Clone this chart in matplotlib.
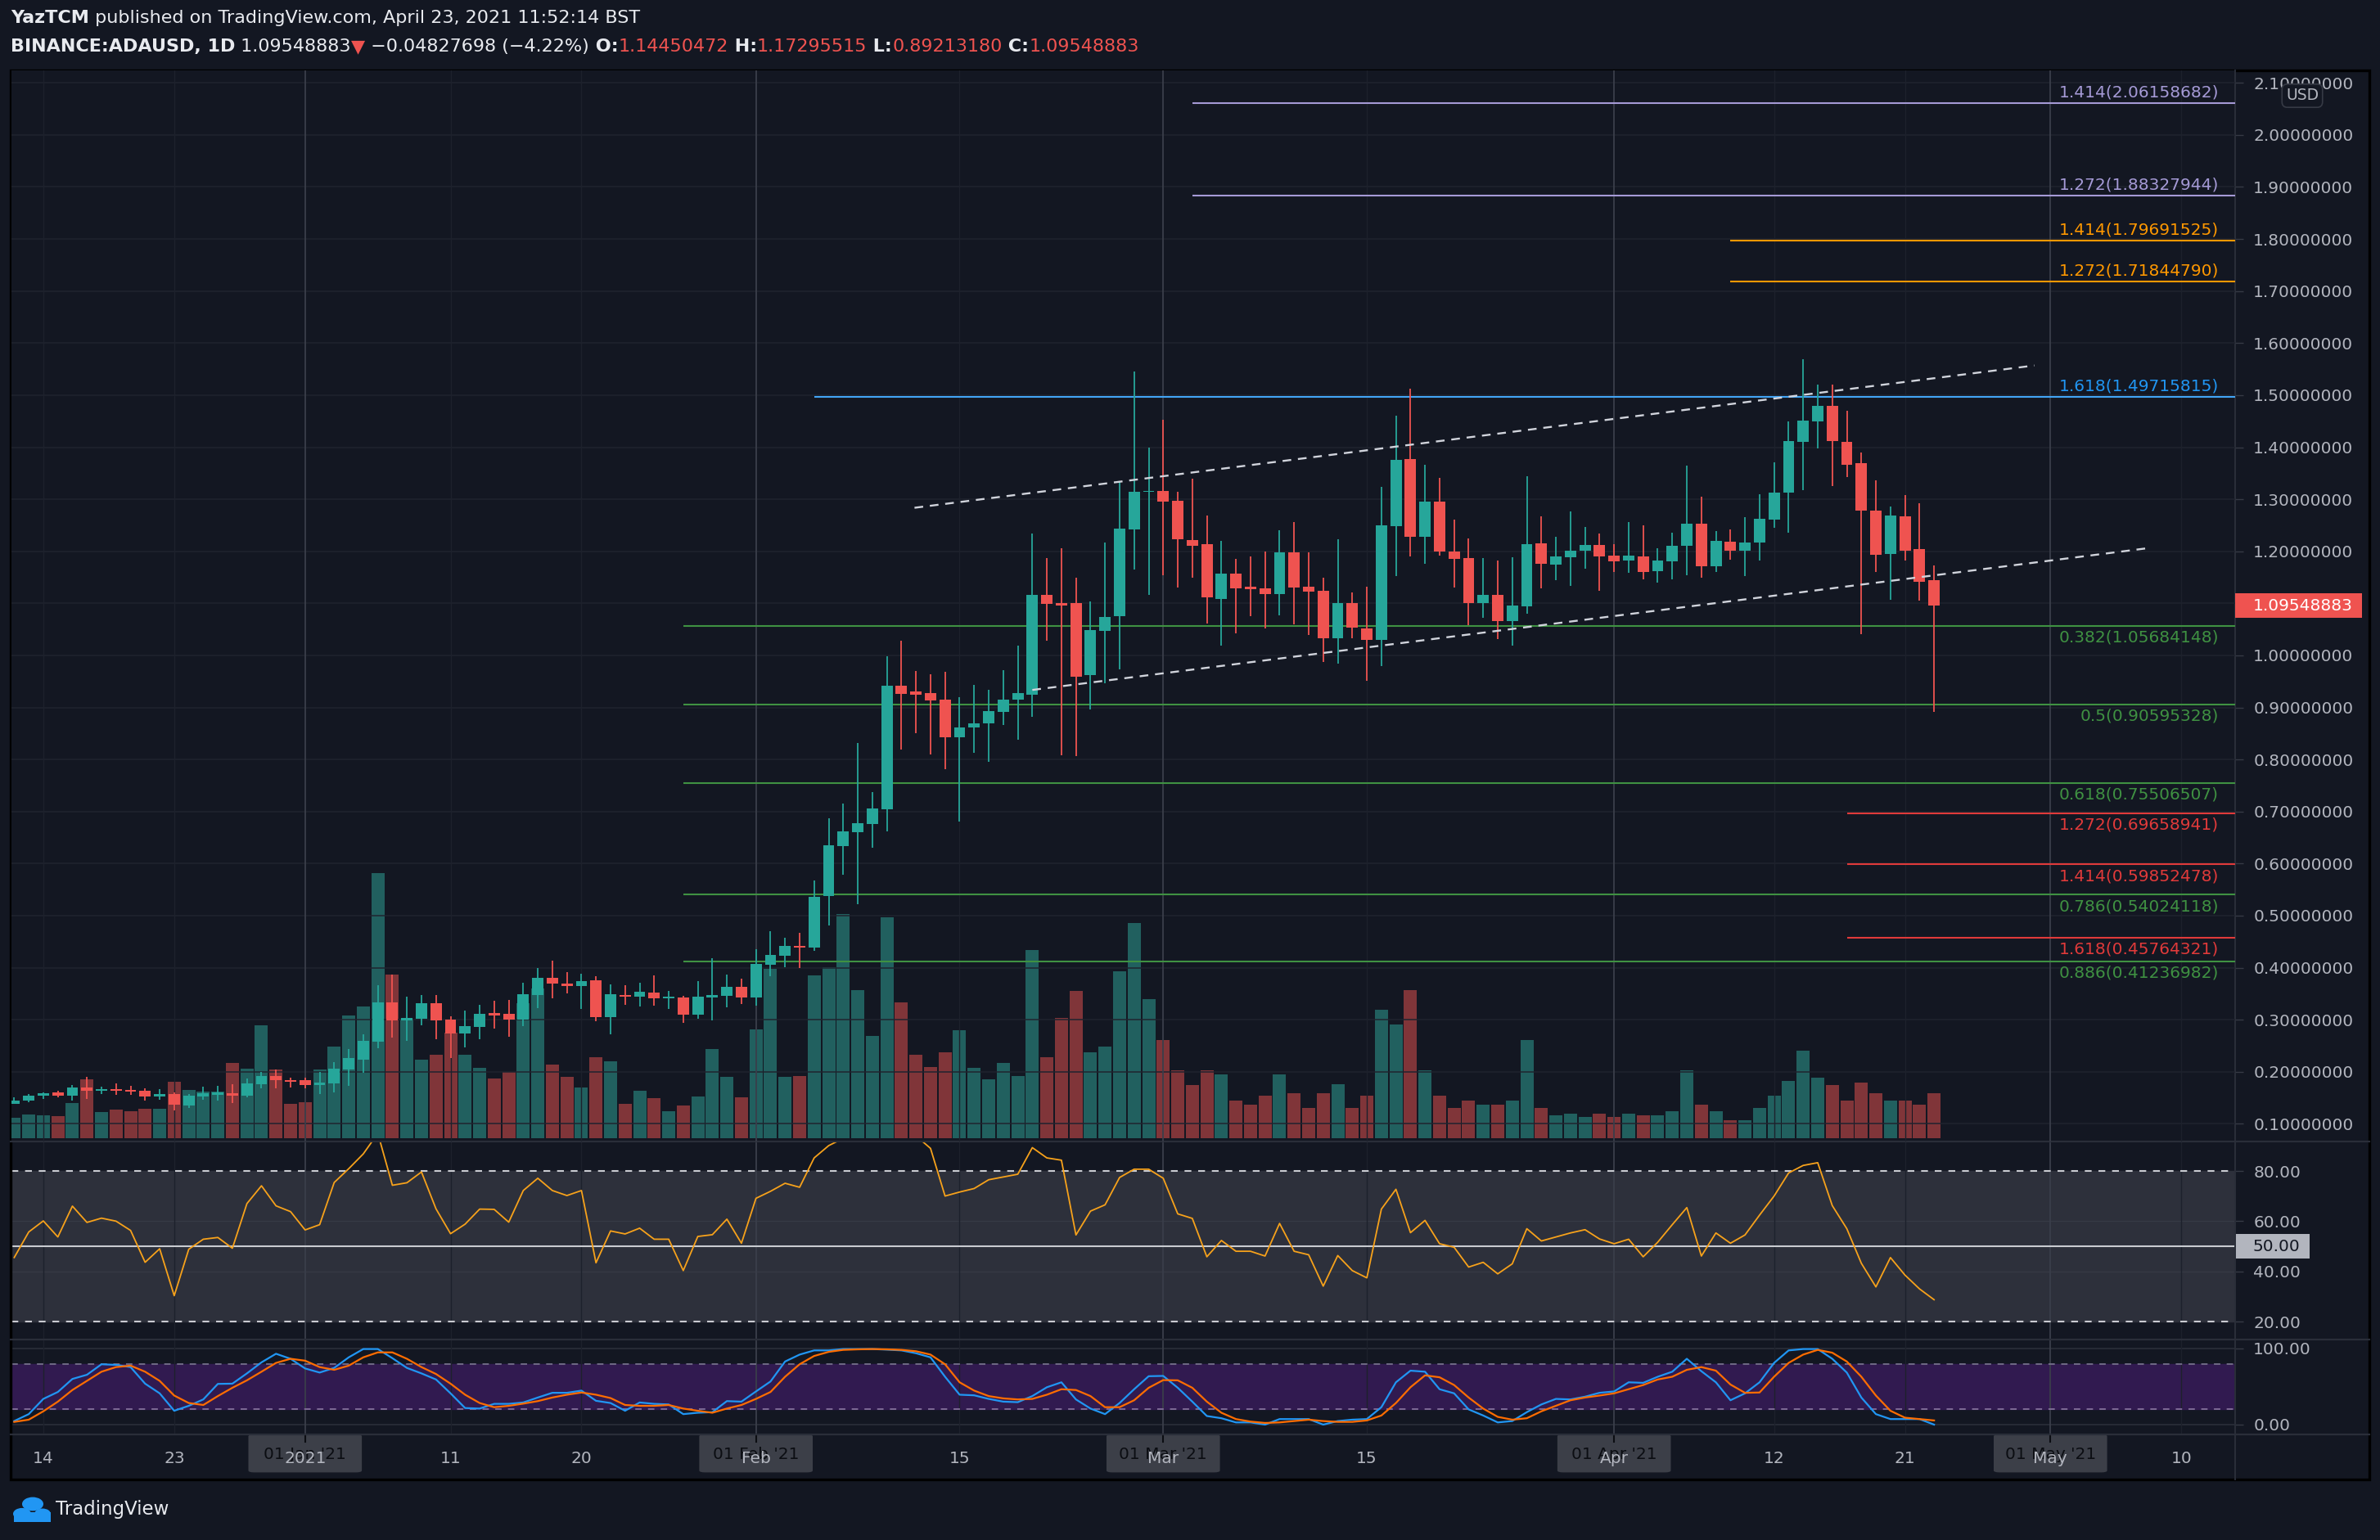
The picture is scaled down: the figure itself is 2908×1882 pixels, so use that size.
import matplotlib
matplotlib.use("Agg")
import matplotlib.pyplot as plt
import matplotlib.transforms as mtransforms
from matplotlib.patches import Rectangle, FancyBboxPatch, Circle
import numpy as np

# ---------------- data ----------------
opens = [0.1382,0.1439,0.1539,0.1596,0.1539,0.1690,0.1628,0.1659,0.1643,0.1628,
         0.1523,0.1565,0.1350,0.1523,0.1555,0.1581,0.1533,0.1753,0.1910,0.1847,
         0.1832,0.1737,0.1769,0.2051,0.2239,0.2585,0.3338,0.2982,0.3024,0.3322,
         0.3008,0.2742,0.2867,0.3134,0.3118,0.3008,0.3479,0.3809,0.3699,0.3652,
         0.3762,0.3055,0.3479,0.3448,0.3526,0.3416,0.3432,0.3102,0.3432,0.3463,
         0.3636,0.3432,0.4060,0.4235,0.4418,0.4379,0.5374,0.6330,0.6606,0.6763,
         0.7045,0.9415,0.9304,0.9271,0.9147,0.8420,0.8610,0.8695,0.8910,0.9147,
         0.9252,1.1168,1.0999,1.0999,0.9619,1.0469,1.0753,1.2416,1.3139,1.3157,
         1.2965,1.2211,1.2133,1.1090,1.1578,1.1313,1.1295,1.1174,1.1976,1.1325,
         1.1247,1.0325,1.0999,1.0524,1.0294,1.2476,1.3772,1.2278,1.2953,1.1994,
         1.1868,1.1008,1.1160,1.0662,1.0945,1.2151,1.1742,1.1889,1.2009,1.2119,
         1.1915,1.1826,1.1900,1.1621,1.1810,1.2104,1.2528,1.1716,1.2182,1.2009,
         1.2167,1.2607,1.3126,1.4102,1.4495,1.4794,1.4102,1.3692,1.2780,1.1946,
         1.2670,1.2040,1.14450472]
highs = [0.1513,0.1575,0.1600,0.1628,0.1737,0.1905,0.1706,0.1780,0.1732,0.1685,
         0.1669,0.1607,0.1565,0.1706,0.1722,0.1753,0.1863,0.2004,0.2046,0.1879,
         0.1879,0.1999,0.2192,0.2443,0.2726,0.3667,0.3871,0.3437,0.3469,0.3479,
         0.3071,0.3181,0.3291,0.3369,0.3385,0.3714,0.3997,0.4138,0.3918,0.3887,
         0.3840,0.3683,0.3667,0.3714,0.3856,0.3558,0.3460,0.3746,0.4185,0.3871,
         0.3793,0.4358,0.4703,0.4580,0.4674,0.5682,0.6868,0.7156,0.8320,0.7378,
         0.9985,1.0280,0.9697,0.9631,0.9684,0.9193,0.9428,0.9337,0.9717,1.0188,
         1.2338,1.1862,1.2055,1.1488,1.1030,1.2163,1.3344,1.5454,1.3989,1.4526,
         1.3139,1.3393,1.2681,1.2193,1.1850,1.1898,1.1988,1.2398,1.2555,1.1976,
         1.1488,1.2229,1.1205,1.1313,1.3236,1.4604,1.5123,1.3658,1.3411,1.2607,
         1.2245,1.1868,1.1820,1.1883,1.3440,1.2670,1.2277,1.2764,1.2466,1.2340,
         1.2135,1.2560,1.2497,1.2057,1.2355,1.3645,1.3048,1.2387,1.2418,1.2654,
         1.3095,1.3708,1.4495,1.5690,1.5203,1.5203,1.4699,1.3897,1.3362,1.2859,
         1.3079,1.2922,1.17295515]
lows = [0.1382,0.1408,0.1476,0.1507,0.1439,0.1470,0.1565,0.1555,0.1550,0.1439,
        0.1460,0.1256,0.1303,0.1460,0.1450,0.1397,0.1502,0.1675,0.1675,0.1690,
        0.1675,0.1565,0.1596,0.1722,0.1988,0.2459,0.2653,0.2590,0.2888,0.2621,
        0.2260,0.2475,0.2632,0.2836,0.2679,0.2872,0.3228,0.3416,0.3510,0.3212,
        0.2977,0.2726,0.3291,0.3259,0.3275,0.3212,0.2946,0.3024,0.2993,0.3244,
        0.3307,0.3275,0.3840,0.4012,0.3986,0.4320,0.4807,0.5793,0.5224,0.6298,
        0.6625,0.8184,0.8498,0.8100,0.7817,0.6809,0.8132,0.7961,0.8656,0.8374,
        0.8824,1.0288,0.8076,0.8058,0.8956,0.9463,0.9728,1.1650,1.1162,1.1536,
        1.1301,1.1494,1.0608,1.0186,1.0421,1.0753,1.0518,1.0770,1.0596,1.0391,
        0.9872,0.9836,1.0325,0.9505,0.9788,1.1524,1.1904,1.1753,1.1916,1.1307,
        1.0578,1.0719,1.0315,1.0190,1.0798,1.1290,1.1448,1.1338,1.1668,1.1244,
        1.1605,1.1590,1.1464,1.1401,1.1464,1.1543,1.1495,1.1605,1.1836,1.1527,
        1.1820,1.2450,1.2355,1.3173,1.3976,1.3252,1.3425,1.0405,1.1605,1.1065,
        1.1820,1.1050,0.89213180]
closes = [0.1450,0.1544,0.1591,0.1533,0.1690,0.1628,0.1659,0.1628,0.1612,0.1523,
          0.1565,0.1366,0.1533,0.1581,0.1596,0.1533,0.1769,0.1910,0.1832,0.1800,
          0.1737,0.1785,0.2067,0.2260,0.2600,0.3338,0.2982,0.3040,0.3322,0.2993,
          0.2742,0.2883,0.3118,0.3087,0.3008,0.3495,0.3809,0.3699,0.3652,0.3746,
          0.3055,0.3495,0.3448,0.3542,0.3416,0.3448,0.3102,0.3448,0.3479,0.3636,
          0.3432,0.4075,0.4248,0.4418,0.4385,0.5368,0.6350,0.6620,0.6776,0.7058,
          0.9415,0.9258,0.9245,0.9127,0.8433,0.8610,0.8701,0.8937,0.9147,0.9270,
          1.1156,1.0982,1.0963,0.9595,1.0494,1.0741,1.2434,1.3139,1.3164,1.2953,
          1.2229,1.2103,1.1108,1.1578,1.1283,1.1277,1.1174,1.1976,1.1301,1.1223,
          1.0325,1.0999,1.0530,1.0294,1.2495,1.3754,1.2278,1.2953,1.1994,1.1857,
          1.1008,1.1160,1.0662,1.0955,1.2135,1.1757,1.1900,1.2009,1.2119,1.1904,
          1.1810,1.1915,1.1605,1.1820,1.2104,1.2528,1.1716,1.2198,1.2009,1.2167,
          1.2623,1.3126,1.4117,1.4510,1.4794,1.4117,1.3666,1.2780,1.1930,1.2686,
          1.2009,1.1411,1.09548883]
volumes = [74,86,83,80,128,218,95,104,98,107,
           107,209,179,173,173,278,257,416,254,125,
           131,254,338,452,485,974,602,440,290,308,
           389,308,260,221,245,498,551,272,227,188,
           299,284,125,176,149,98,119,155,329,227,
           152,401,623,225,228,599,629,825,545,375,
           813,499,306,261,315,396,258,216,276,228,
           693,298,441,541,315,336,613,791,512,362,
           250,195,250,234,140,123,156,234,167,111,
           167,200,111,156,473,418,546,250,156,111,
           140,123,123,140,362,111,84,89,78,89,
           78,89,84,84,100,250,123,100,67,67,
           111,156,212,323,223,195,140,206,167,140,
           140,123,167]
rsi = [45.5,55.7,60.1,53.7,66.0,59.5,61.2,60.0,56.3,43.6,
       49.0,30.3,48.8,52.8,53.5,49.2,67.0,74.1,66.1,63.8,
       56.5,58.6,75.4,80.9,86.8,95.0,74.3,75.3,79.6,64.9,
       55.0,58.8,64.8,64.7,59.6,72.2,77.1,72.2,70.2,72.2,
       43.4,56.1,54.9,57.2,52.8,52.8,40.3,53.9,54.6,60.8,
       51.2,69.1,71.9,75.1,73.5,85.2,90.1,93.0,93.5,94.0,
       96.0,95.5,94.0,89.0,70.0,71.6,73.0,76.5,77.6,78.7,
       89.3,85.2,84.3,54.5,64.0,66.5,77.4,80.7,80.7,77.1,
       62.9,61.1,45.8,52.3,48.0,48.0,46.1,59.1,48.0,46.6,
       34.1,46.3,40.3,37.4,64.8,72.7,55.4,60.3,51.0,49.6,
       41.7,43.6,39.0,43.0,57.0,52.1,53.7,55.3,56.6,52.9,
       51.0,52.8,45.8,51.6,58.6,65.4,46.1,55.3,51.2,54.5,
       62.4,70.0,79.2,82.2,83.3,66.2,57.0,43.2,33.8,45.5,
       38.5,33.0,28.7]
stoch_k = [4.7,13.8,33.8,42.9,60.0,65.5,79.3,78.5,75.6,53.8,
           41.1,18.2,24.7,33.1,53.5,53.8,67.3,81.8,93.1,86.5,
           73.8,68.4,74.5,88.4,99.3,99.3,87.3,74.5,67.3,59.3,
           41.1,21.8,21.1,27.3,27.3,29.1,35.6,41.8,41.8,44.7,
           31.3,28.4,18.2,29.1,27.3,26.5,13.8,15.6,16.4,30.9,
           30.2,43.6,56.7,82.9,92.0,97.5,97.5,99.3,99.3,99.3,
           98.5,97.5,93.8,88.4,62.9,39.3,38.5,33.8,30.2,29.5,
           37.5,49.1,55.6,33.1,21.1,13.8,28.4,46.5,63.6,64.0,
           48.4,30.2,11.3,8.4,2.9,2.9,0.0,7.3,7.3,7.3,
           0.0,4.7,6.5,7.3,22.9,55.6,70.9,69.5,46.5,41.1,
           20.0,12.0,2.9,4.7,16.4,26.5,33.8,33.1,36.7,41.8,
           43.6,55.6,54.9,62.9,69.5,86.5,70.2,55.6,32.0,41.1,
           55.6,81.1,97.5,99.3,99.3,86.5,68.4,35.6,13.8,7.3,
           7.3,7.3,0.0]
stoch_d = [3.6,6.5,17.5,30.2,45.5,57.5,69.5,75.6,77.5,69.5,
           57.5,38.2,28.4,25.8,37.5,48.4,58.2,69.5,81.1,86.5,
           84.0,75.6,72.0,77.5,88.4,94.9,94.9,86.5,75.6,66.5,
           53.8,39.3,28.4,22.9,24.7,27.6,30.9,35.6,39.3,42.2,
           39.3,34.9,25.8,24.7,24.7,25.8,21.1,18.2,15.6,21.1,
           25.8,33.8,42.9,62.9,79.3,90.2,95.6,98.2,98.9,99.3,
           98.9,98.2,96.4,92.0,79.3,55.6,44.7,37.5,34.5,33.1,
           33.8,39.3,46.5,45.5,37.5,22.9,22.9,32.0,48.4,58.5,
           58.2,48.4,30.2,15.6,7.3,4.0,2.2,2.9,4.7,6.5,
           4.7,3.6,3.6,5.5,12.0,28.4,49.1,64.7,62.2,52.0,
           35.6,21.1,10.2,6.5,8.4,17.5,24.7,32.0,35.6,38.2,
           41.1,46.5,52.0,59.3,62.9,72.0,75.6,70.9,52.7,41.8,
           42.2,62.9,81.1,92.0,98.2,94.5,82.9,62.9,38.2,18.2,
           9.1,7.3,5.5]

# day index 0 = 12 Dec 2020
time_tick_idx = [2, 11, 20, 30, 39, 51, 65, 79, 93, 110, 121, 130, 140, 149]
time_tick_labels = ["14", "23", "2021", "11", "20", "Feb", "15", "Mar", "15",
                    "Apr", "12", "21", "May", "10"]
month_idx = [20, 51, 79, 110, 140]
month_box_labels = ["01 Jan '21", "01 Feb '21", "01 Mar '21", "01 Apr '21", "01 May '21"]

price_ticks = [round(0.1 * k, 1) for k in range(1, 22)]
rsi_ticks = [20, 40, 60, 80]
stoch_ticks = [0, 100]

fib_ratios = ["1.414", "1.272", "1.414", "1.272", "1.618", "0.382", "0.5", "0.618",
              "1.272", "1.414", "0.786", "1.618", "0.886"]
fib_levels = [2.06158682, 1.88327944, 1.79691525, 1.71844790, 1.49715815,
              1.05684148, 0.90595328, 0.75506507, 0.69658941, 0.59852478,
              0.54024118, 0.45764321, 0.41236982]
fib_start_idx = [81, 81, 118, 118, 55, 46, 46, 46, 126, 126, 46, 126, 46]

chan_upper_idx = [61.9, 138.9]
chan_upper_price = [1.2836, 1.557]
chan_lower_idx = [70.0, 146.7]
chan_lower_price = [0.9336, 1.206]

header_line1 = [("YazTCM", "bold"),
                (" published on TradingView.com, April 23, 2021 11:52:14 BST", "normal")]
change_text = " −0.04827698 (−4.22%)"

last_close = closes[-1]

# ---------------- style ----------------
BG = "#131722"
GRID = "#20242f"
MONTHC = "#3a3e4a"
TICKC = "#1d212c"
TXT = "#b2b5be"
UP, DN = "#26a69a", "#ef5350"
UPV, DNV = "#21605f", "#803539"
PURPLE, ORANGE, BLUE, GREEN, RED = "#a59ad6", "#ff9800", "#42a5f5", "#3f9142", "#e03a3a"
fib_colors = [PURPLE, PURPLE, ORANGE, ORANGE, BLUE, GREEN, GREEN, GREEN, RED, RED,
              GREEN, RED, GREEN]
fib_label_colors = [PURPLE, PURPLE, ORANGE, ORANGE, "#2196f3", GREEN, GREEN, GREEN,
                    RED, RED, GREEN, RED, GREEN]
fib_above = [True, True, True, True, True, False, False, False, False, False,
             False, False, False]

plt.rcParams['font.family'] = ['DejaVu Sans']
FS = 14.5
HFS = 16

W, H = 2908, 1882
fig = plt.figure(figsize=(W / 100, H / 100), dpi=100)
fig.patch.set_facecolor(BG)


def rect(x0, y0, x1, y1):
    return [x0 / W, 1 - y1 / H, (x1 - x0) / W, (y1 - y0) / H]


L, R = 14, 2731
XMIN, XMAX = -0.19, 152.7
x = np.arange(len(closes))
ups = [c >= o for o, c in zip(opens, closes)]

# ---- price pane ----
ax_vol = fig.add_axes(rect(L, 86, R, 1395))
ax_vol.set_facecolor(BG)
ax_vol.set_zorder(1)
ax = fig.add_axes(rect(L, 86, R, 1395), sharex=ax_vol)
ax.set_zorder(2)
ax.patch.set_alpha(0)

ax_vol.bar(x, volumes, width=0.9, color=[UPV if u else DNV for u in ups], zorder=2)
ax_vol.set_ylim(-12, 3928)
ax_vol.set_yticks([])

ax.set_ylim(0.066, 2.124)
ax.set_xlim(XMIN, XMAX)
for t in price_ticks:
    ax.axhline(t, color=GRID, lw=1.1, zorder=0.5)

ax.vlines(x, lows, highs, colors=[UP if u else DN for u in ups], lw=1.3, zorder=3)
bottoms = [min(o, c) for o, c in zip(opens, closes)]
heights = [max(abs(c - o), 0.002) for o, c in zip(opens, closes)]
ax.bar(x, heights, bottom=bottoms, width=0.78, color=[UP if u else DN for u in ups],
       zorder=3.1)

blend = mtransforms.blended_transform_factory(ax.transAxes, ax.transData)
for lvl, r, st, c, lc, above in zip(fib_levels, fib_ratios, fib_start_idx, fib_colors,
                                     fib_label_colors, fib_above):
    ax.hlines(lvl, st, XMAX, color=c, lw=1.5, zorder=2.5)
    ax.annotate(f"{r}({lvl:.8f})", xy=(0.9926, lvl), xycoords=blend,
                xytext=(0, 9.5 if above else -10.5), textcoords="offset points",
                ha="right", va="center", color=lc, fontsize=FS, zorder=4)

ax.plot(chan_upper_idx, chan_upper_price, color="#d1d4dc", lw=1.7,
        ls=(0, (4.5, 3.5)), zorder=3.5)
ax.plot(chan_lower_idx, chan_lower_price, color="#d1d4dc", lw=1.7,
        ls=(0, (4.5, 3.5)), zorder=3.5)

ax.yaxis.tick_right()
ax.set_yticks(price_ticks)
ax.set_yticklabels([f"{t:.8f}" for t in price_ticks])

# last price box
ax.add_patch(Rectangle((1.0, last_close - 0.0236), 155 / (R - L), 0.0472, transform=blend,
                       facecolor="#ef5350", edgecolor="none", clip_on=False, zorder=6))
ax.text(1.0 + 22 / (R - L), last_close, f"{last_close:.8f}", transform=blend, color="white",
        fontsize=FS, va="center", ha="left", zorder=7, clip_on=False)

# ---- RSI pane ----
ax_r = fig.add_axes(rect(L, 1395, R, 1637), sharex=ax)
ax_r.set_facecolor(BG)
ax_r.set_ylim(12.83, 91.74)
ax_r.axhspan(20, 80, color="#2d303b", zorder=0.2)
for t in [40, 60]:
    ax_r.axhline(t, color="#363a45", lw=1.0, zorder=0.5)
ax_r.axhline(80, color="#c9cbd1", lw=1.5, ls=(0, (4, 4)), zorder=1)
ax_r.axhline(20, color="#c9cbd1", lw=1.5, ls=(0, (4, 4)), zorder=1)
ax_r.axhline(50, color="#c9cbd1", lw=1.5, zorder=1)
ax_r.plot(x, rsi, color="#f7a21b", lw=1.3, zorder=3)
ax_r.yaxis.tick_right()
ax_r.set_yticks(rsi_ticks)
ax_r.set_yticklabels([f"{t:.2f}" for t in rsi_ticks])
blend_r = mtransforms.blended_transform_factory(ax_r.transAxes, ax_r.transData)
ax_r.add_patch(Rectangle((1.0, 45.1), 91 / (R - L), 9.8, transform=blend_r,
                         facecolor="#b2b5be", edgecolor="none", clip_on=False, zorder=6))
ax_r.text(1.0 + 22 / (R - L), 50, "50.00", transform=blend_r, color="#131722",
          fontsize=FS, va="center", ha="left", zorder=7, clip_on=False)

# ---- Stoch RSI pane ----
ax_s = fig.add_axes(rect(L, 1637, R, 1753), sharex=ax)
ax_s.set_facecolor(BG)
ax_s.set_ylim(-12.9, 111.8)
ax_s.axhspan(20, 80, color="#311a50", zorder=0.2)
for t in stoch_ticks:
    ax_s.axhline(t, color="#2a2e39", lw=1.2, zorder=0.5)
ax_s.axhline(80, color="#6f6a85", lw=1.4, ls=(0, (4, 4)), zorder=1)
ax_s.axhline(20, color="#7e6a96", lw=1.4, ls=(0, (4, 4)), zorder=1)
ax_s.plot(x, stoch_k, color="#2196f3", lw=1.6, zorder=3)
ax_s.plot(x, stoch_d, color="#ff6d00", lw=1.6, zorder=3)
ax_s.yaxis.tick_right()
ax_s.set_yticks(stoch_ticks)
ax_s.set_yticklabels([f"{t:.2f}" for t in stoch_ticks])

# vertical grid lines
for a in (ax, ax_r, ax_s):
    for ti in time_tick_idx:
        if ti in month_idx:
            a.axvline(ti, color=MONTHC, lw=1.3, zorder=0.6)
        else:
            a.axvline(ti, color=TICKC, lw=1.0, zorder=0.6)

for a in (ax_vol, ax, ax_r, ax_s):
    for s in a.spines.values():
        s.set_visible(False)
    a.tick_params(axis="y", colors=TXT, labelcolor=TXT, labelsize=FS, length=7, width=1,
                  color="#363a45", pad=9)
    a.tick_params(axis="x", bottom=False, labelbottom=False)
ax_vol.tick_params(axis="y", length=0)

ax_s.set_xticks(time_tick_idx)
ax_s.set_xticklabels(time_tick_labels)
ax_s.tick_params(axis="x", bottom=False, labelbottom=True, colors=TXT, labelsize=FS,
                 pad=11)
ax_s.set_xlim(XMIN, XMAX)

# month highlight boxes on time axis (the reference overlaps them with the tick labels)
blend_s = mtransforms.blended_transform_factory(ax_s.transData, ax_s.transAxes)
for mi, lab in zip(month_idx, month_box_labels):
    ax_s.add_patch(FancyBboxPatch((mi - 3.9, -0.40), 7.8, 0.40, transform=blend_s,
                                  boxstyle="round,pad=0,rounding_size=0.4",
                                  facecolor="#3c3f48", edgecolor="none", clip_on=False,
                                  zorder=0.9, mutation_aspect=0.05))
    ax_s.text(mi, -0.215, lab, transform=blend_s, ha="center", va="center",
              color="#0b0d12", fontsize=FS, clip_on=False, zorder=1.0)
    ax_s.plot([mi, mi], [0, -0.08], transform=blend_s, color="#0b0d12", lw=1.5,
              clip_on=False, zorder=1.0)

# ---- frame / separators ----
for yy in (1395, 1637, 1753):
    fig.add_artist(plt.Line2D([13 / W, 2895 / W], [1 - yy / H, 1 - yy / H],
                              color="#2a2e39", lw=1.6))
fig.add_artist(plt.Line2D([R / W, R / W], [1 - 86 / H, 1 - 1808 / H], color="#2a2e39",
                          lw=1.4))
fig.add_artist(Rectangle((13 / W, 1 - 1808 / H), (2895 - 13) / W, (1808 - 86) / H,
                         transform=fig.transFigure, fill=False, edgecolor="#000000",
                         lw=2.4))

# USD box
fig.text(2813 / W, 1 - 117 / H, "USD", ha="center", va="center", color=TXT, fontsize=13.5,
         bbox=dict(boxstyle="round,pad=0.25,rounding_size=0.35", facecolor=BG,
                   edgecolor="#363a45", lw=1.2), zorder=5)

# ---- header ----
renderer = fig.canvas.get_renderer()


def rich(x0, y0, parts, size):
    xx = x0
    for s, col, wt in parts:
        t = fig.text(xx / W, 1 - y0 / H, s, color=col, fontsize=size, fontweight=wt,
                     ha="left", va="center")
        bb = t.get_window_extent(renderer)
        xx += bb.width


WHITE = "#e8eaef"
rich(13, 22, [(s, WHITE, wt) for s, wt in header_line1], HFS)
rich(13, 57, [("BINANCE:ADAUSD, 1D", WHITE, "bold"),
              (f" {last_close:.8f}", WHITE, "normal"),
              ("▼", DN, "normal"),
              (change_text, WHITE, "normal"),
              (" O:", WHITE, "bold"), (f"{opens[-1]:.8f}", DN, "normal"),
              (" H:", WHITE, "bold"), (f"{highs[-1]:.8f}", DN, "normal"),
              (" L:", WHITE, "bold"), (f"{lows[-1]:.8f}", DN, "normal"),
              (" C:", WHITE, "bold"), (f"{closes[-1]:.8f}", DN, "normal")], HFS)

# ---- TradingView logo ----
for cx, cy, rr in [(27, 1850, 11), (40, 1838, 13), (52, 1850, 10)]:
    fig.add_artist(Circle((cx / W, 1 - cy / H), rr / W, transform=fig.transFigure,
                          facecolor="#2196f3", edgecolor="none"))
fig.add_artist(Rectangle((17 / W, 1 - 1860 / H), 45 / W, 12 / H, transform=fig.transFigure,
                         facecolor="#2196f3", edgecolor="none"))
fig.text(68 / W, 1 - 1845 / H, "TradingView", color="#e8eaef", fontsize=16.5, ha="left",
         va="center")

fig.savefig("out.png", dpi=100, facecolor=BG)
